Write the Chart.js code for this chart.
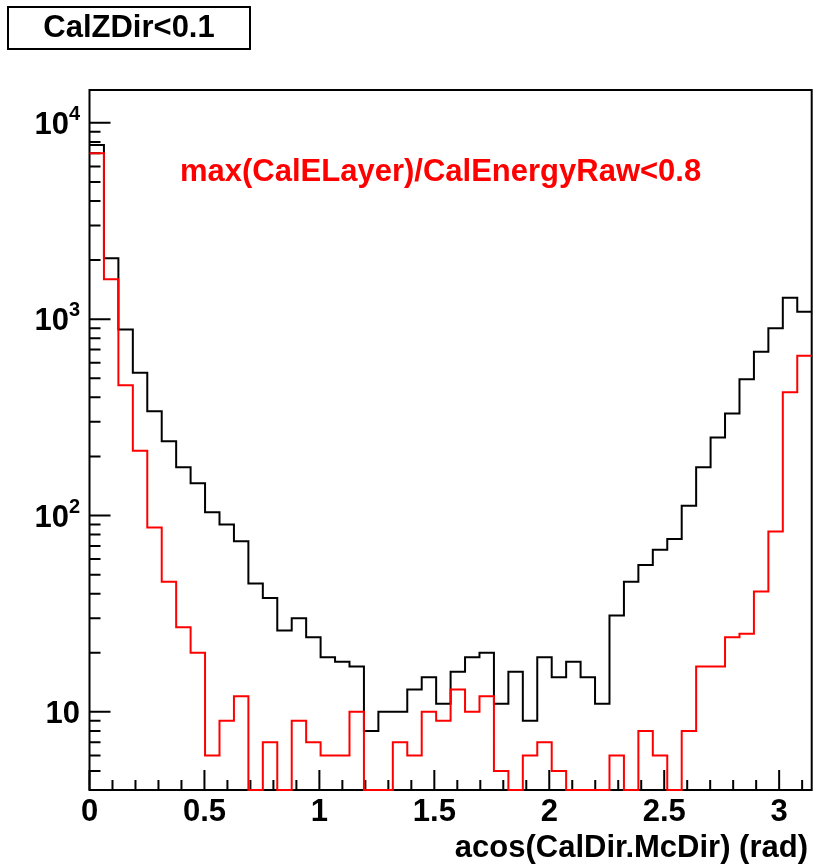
<!DOCTYPE html>
<html>
<head>
<meta charset="utf-8">
<script src="https://cdn.jsdelivr.net/npm/chart.js@4.4.1/dist/chart.umd.min.js"></script>
<style>
  html, body { margin: 0; padding: 0; background: #fff; }
  canvas { display: block; }
</style>
</head>
<body>
<canvas id="histo" width="818" height="864"></canvas>
<script>
// 50 bins between 0 and pi
const xMin = 0;
const xMax = Math.PI;
const yMin = 4;
const yMax = 14700;

// all events with CalZDir<0.1
const allEvents = [
  7710, 2042, 887, 533, 340, 239, 176, 146, 104, 90,
  74, 45, 38, 26, 30, 24, 19, 18, 17, 8,
  10, 10, 13, 15, 11, 16, 19, 20, 11, 16,
  9, 19, 15, 18, 15, 11, 31, 46, 56, 67,
  76, 112, 176, 250, 331, 495, 682, 898, 1285, 1092
];

// subset with max(CalELayer)/CalEnergyRaw<0.8
const layerCut = [
  7000, 1596, 461, 214, 87, 46, 27, 20, 6, 9,
  12, 0, 7, 0, 9, 7, 6, 6, 10, 0,
  0, 7, 6, 10, 9, 13, 10, 12, 5, 0,
  6, 7, 5, 0, 0, 0, 6, 0, 8, 6,
  0, 8, 17, 17, 24, 25, 41, 83, 424, 651
];

const xMajorTicks = [0, 0.5, 1, 1.5, 2, 2.5, 3];
const xTickLabels = ['0', '0.5', '1', '1.5', '2', '2.5', '3'];
const yDecades = [1, 10, 100, 1000, 10000];

const FONT = 'bold 31px "Liberation Sans", Arial, Helvetica, sans-serif';
const SUP_FONT = 'bold 20px "Liberation Sans", Arial, Helvetica, sans-serif';

// step points: one per bin at its left edge plus the closing edge at pi
// (empty bins sit on the bottom axis)
function histPoints(counts) {
  const w = (xMax - xMin) / counts.length;
  const pts = counts.map((c, i) => ({ x: xMin + i * w, y: c > 0 ? c : yMin }));
  pts.push({ x: xMax, y: pts[pts.length - 1].y });
  return pts;
}

const rootFrame = {
  id: 'rootFrame',
  beforeDatasetsDraw(chart) {
    const { ctx, chartArea: a, scales } = chart;
    const xs = scales.x, ys = scales.y;
    ctx.save();
    ctx.strokeStyle = '#000';
    ctx.lineWidth = 2;
    ctx.strokeRect(a.left, a.top, a.right - a.left, a.bottom - a.top);

    ctx.beginPath();
    // x ticks: major every 0.5, minor every 0.1
    for (let k = 0; k <= 31; k++) {
      const v = k / 10;
      if (v > xMax) break;
      const px = xs.getPixelForValue(v);
      const len = k % 5 === 0 ? 20 : 10;
      ctx.moveTo(px, a.bottom);
      ctx.lineTo(px, a.bottom - len);
    }
    // y ticks on the log axis
    yDecades.forEach(d => {
      for (let m = 1; m <= 9; m++) {
        const v = m * d;
        if (v < yMin || v > yMax) continue;
        const py = ys.getPixelForValue(v);
        const len = m === 1 ? 21 : 11;
        ctx.moveTo(a.left, py);
        ctx.lineTo(a.left + len, py);
      }
    });
    ctx.stroke();
    ctx.restore();
  },
  afterDraw(chart) {
    const { ctx, scales } = chart;
    const xs = scales.x, ys = scales.y;
    ctx.save();
    ctx.fillStyle = '#000';
    ctx.textBaseline = 'alphabetic';

    // x tick labels
    ctx.font = FONT;
    ctx.textAlign = 'center';
    xMajorTicks.forEach((v, i) => {
      ctx.fillText(xTickLabels[i], xs.getPixelForValue(v), 821);
    });

    // y tick labels, 10 then 10^n
    yDecades.forEach(d => {
      if (d < yMin || d > yMax) return;
      const py = ys.getPixelForValue(d);
      const exp = Math.round(Math.log10(d));
      const right = 80;
      ctx.textAlign = 'left';
      if (exp === 1) {
        ctx.font = FONT;
        const w = ctx.measureText('10').width;
        ctx.fillText('10', right - w, py + 11);
      } else {
        ctx.font = SUP_FONT;
        const sw = ctx.measureText(String(exp)).width;
        ctx.font = FONT;
        const bw = ctx.measureText('10').width;
        const x0 = right - sw - bw;
        ctx.fillText('10', x0, py + 11);
        ctx.font = SUP_FONT;
        ctx.fillText(String(exp), x0 + bw, py - 3);
      }
    });

    // axis title
    ctx.font = FONT;
    ctx.textAlign = 'right';
    ctx.fillText('acos(CalDir.McDir) (rad)', 808, 857);

    // cut label
    ctx.fillStyle = '#ff0000';
    ctx.textAlign = 'left';
    ctx.fillText('max(CalELayer)/CalEnergyRaw<0.8', 180, 181);

    // title box
    ctx.fillStyle = '#fff';
    ctx.fillRect(8, 7, 242, 42);
    ctx.strokeStyle = '#000';
    ctx.lineWidth = 2;
    ctx.strokeRect(8, 7, 242, 42);
    ctx.fillStyle = '#000';
    ctx.textAlign = 'center';
    ctx.fillText('CalZDir<0.1', 129, 37);
    ctx.restore();
  }
};

new Chart(document.getElementById('histo'), {
  type: 'line',
  data: {
    datasets: [
      {
        label: 'max(CalELayer)/CalEnergyRaw<0.8',
        data: histPoints(layerCut),
        borderColor: '#ff0000',
        borderWidth: 2,
        stepped: 'before',
        pointRadius: 0,
        fill: false,
        clip: false,
        order: 0
      },
      {
        label: 'CalZDir<0.1',
        data: histPoints(allEvents),
        borderColor: '#000000',
        borderWidth: 2,
        stepped: 'before',
        pointRadius: 0,
        fill: false,
        clip: false,
        order: 1
      }
    ]
  },
  options: {
    responsive: false,
    animation: false,
    devicePixelRatio: 1,
    layout: { padding: { left: 89.5, right: 6.3, top: 90, bottom: 74 } },
    plugins: { legend: { display: false }, tooltip: { enabled: false } },
    scales: {
      x: {
        type: 'linear', min: xMin, max: xMax,
        grid: { display: false, drawTicks: false }, border: { display: false },
        ticks: { display: false }
      },
      y: {
        type: 'logarithmic', min: yMin, max: yMax,
        grid: { display: false, drawTicks: false }, border: { display: false },
        ticks: { display: false }
      }
    }
  },
  plugins: [rootFrame]
});
</script>
</body>
</html>
